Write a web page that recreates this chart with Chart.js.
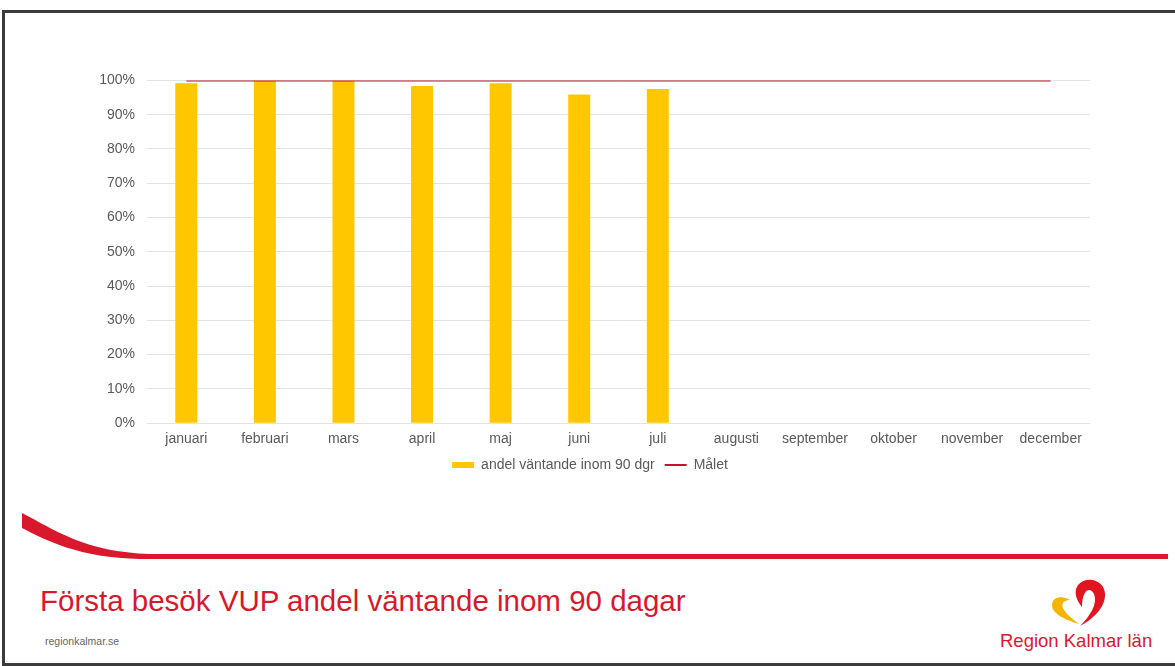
<!DOCTYPE html>
<html>
<head>
<meta charset="utf-8">
<script src="https://cdn.jsdelivr.net/npm/chart.js"></script>
<style>
    html, body { margin: 0; padding: 0; background: #fff; }
    body { width: 1175px; height: 666px; position: relative; overflow: hidden; font-family: "Liberation Sans", Arial, sans-serif; }
    .frame { position: absolute; left: 2px; top: 10px; width: 1190px; height: 650px; border: 3px solid #3b3b3b; border-right: none; }
    .chartBox { position: absolute; left: 90px; top: 60px; width: 1000px; height: 422px; }
    .title { position: absolute; left: 40px; top: 584px; font-size: 29.5px; color: #d9182d; white-space: nowrap; }
    .url { position: absolute; left: 45px; top: 635px; font-size: 10.5px; color: #666; }
    .logoText { position: absolute; left: 1000px; top: 630px; font-size: 18.5px; color: #d9182d; white-space: nowrap; }
    svg.deco { position: absolute; left: 0; top: 0; }
</style>
</head>
<body>
<div class="frame"></div>
<svg class="deco" width="1175" height="666">
    <!-- red swoosh into the divider line -->
    <path d="M22 513 C 55 530, 85 552, 150 554 L 1168 554 L 1168 559 L 140 559 C 80 558, 45 540, 22 528 Z" fill="#d9182d"/>
    <!-- logo heart -->
    <path d="M1082 607 C 1068 590, 1080 578, 1092 580 C 1106 582, 1110 598, 1098 612 C 1092 619, 1084 624, 1080 626 C 1090 616, 1098 604, 1094 594 C 1090 586, 1082 590, 1082 607 Z" fill="#e0151f"/>
    <path d="M1079 624 C 1066 620, 1052 614, 1052 605 C 1052 597, 1062 595, 1070 600 C 1064 600, 1060 604, 1064 610 C 1068 616, 1074 620, 1079 624 Z" fill="#f5b400"/>
</svg>
<div class="chartBox"><canvas id="vupChart"></canvas></div>
<div class="title">Första besök VUP andel väntande inom 90 dagar</div>
<div class="url">regionkalmar.se</div>
<div class="logoText">Region Kalmar län</div>

<script>
    const months = ['januari', 'februari', 'mars', 'april', 'maj', 'juni', 'juli',
        'augusti', 'september', 'oktober', 'november', 'december'];
    // share of waiting patients seen within 90 days (%), Jan-Jul reported
    const andelInom90 = [99.2, 100, 100, 98.4, 99.2, 95.9, 97.5, null, null, null, null, null];
    const malet = [100, 100, 100, 100, 100, 100, 100, 100, 100, 100, 100, 100];
    const yTicks = [0, 10, 20, 30, 40, 50, 60, 70, 80, 90, 100];

    const tickFont = { family: 'Liberation Sans', size: 14 };

    const ctx = document.getElementById('vupChart');
    new Chart(ctx, {
        type: 'bar',
        data: {
            labels: months,
            datasets: [{
                type: 'line',
                label: 'Målet',
                data: malet,
                borderColor: '#c8102e',
                backgroundColor: '#c8102e',
                borderWidth: 2,
                pointRadius: 0,
                pointStyle: 'line',
                order: 0
            }, {
                label: 'andel väntande inom 90 dgr',
                data: andelInom90,
                backgroundColor: '#ffc700',
                borderWidth: 0,
                pointStyle: 'rect',
                categoryPercentage: 0.56,
                barPercentage: 0.5,
                order: 1
            }]
        },
        options: {
            responsive: true,
            maintainAspectRatio: false,
            animation: false,
            layout: { padding: { top: 10, right: 0, bottom: 0, left: 0 } },
            plugins: {
                tooltip: { enabled: false },
                legend: {
                    position: 'bottom',
                    reverse: true,
                    labels: {
                        usePointStyle: true,
                        pointStyleWidth: 22,
                        boxHeight: 6,
                        padding: 10,
                        color: '#595959',
                        font: tickFont
                    }
                }
            },
            scales: {
                x: {
                    grid: { display: false },
                    border: { display: false },
                    ticks: {
                        color: '#595959',
                        padding: 0,
                        autoSkip: false,
                        maxRotation: 0,
                        font: tickFont
                    }
                },
                y: {
                    min: 0,
                    max: 100,
                    afterFit: (scale) => { scale.width = 57; },
                    afterBuildTicks: (scale) => { scale.ticks = yTicks.map(v => ({ value: v })); },
                    grid: { color: '#e3e3e3', drawTicks: false },
                    border: { display: false },
                    ticks: {
                        color: '#595959',
                        padding: 12,
                        font: tickFont,
                        callback: (v) => v + '%'
                    }
                }
            }
        }
    });
</script>
</body>
</html>
